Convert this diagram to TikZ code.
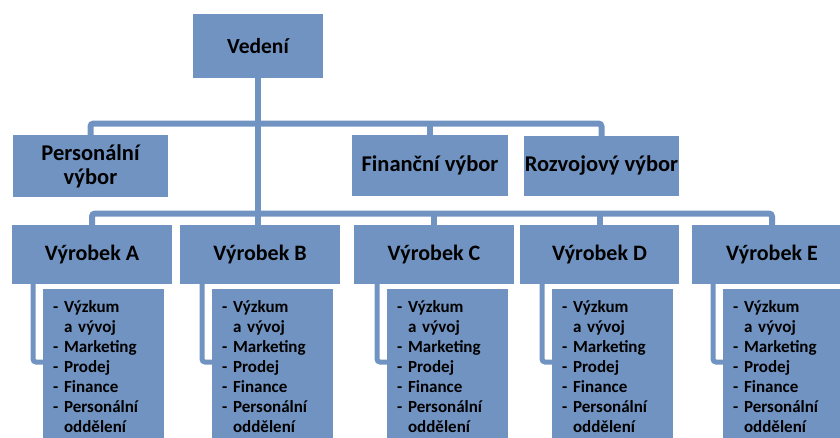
\documentclass[tikz,border=0pt]{standalone}
\usepackage{fontspec}
\setmainfont{Carlito}
\usetikzlibrary{positioning}

\definecolor{orgblue}{RGB}{113,147,194}

\newcommand{\oddeleni}{- Výzkum\\\hphantom{- }a vývoj\\- Marketing\\- Prodej\\- Finance\\- Personální\\\hphantom{- }oddělení}

\begin{document}
\begin{tikzpicture}[
  x=1pt,y=-1pt,
  box/.style={fill=orgblue,inner sep=0pt,align=center,font=\bfseries\fontsize{22.5}{24}\selectfont},
  product/.style={box,minimum width=160pt,minimum height=59pt,font=\bfseries\fontsize{22}{24}\selectfont},
  duties/.style={fill=orgblue,anchor=north west,text width=101pt,align=left,inner xsep=10pt,inner ysep=11pt,
    font=\bfseries\fontsize{17}{20}\selectfont},
  link/.style={draw=orgblue,line width=6pt},
  bracket/.style={draw=orgblue,line width=5pt,rounded corners=3pt}
]
  \useasboundingbox (0,0) rectangle (840,437);

  % top levels
  \node[box,minimum width=130pt,minimum height=64pt,font=\bfseries\fontsize{21.5}{24}\selectfont] (vedeni) at (258,46) {Vedení};
  \node[box,minimum width=155pt,minimum height=62pt] (personal) at (90.5,166) {Personální\\výbor};
  \node[box,minimum width=156pt,minimum height=61pt] (financni) at (430,165.5) {Finanční výbor};
  \node[box,minimum width=155pt,minimum height=60pt] (rozvoj) at (601.5,166) {Rozvojový výbor};

  % products
  \node[product] (prodA) at (92,254.5) {Výrobek A};
  \node[product] (prodB) at (260,254.5) {Výrobek B};
  \node[product] (prodC) at (434,254.5) {Výrobek C};
  \node[product,minimum width=159pt] (prodD) at (599.5,254.5) {Výrobek D};
  \node[product] (prodE) at (772,254.5) {Výrobek E};

  % departments of each product
  \node[duties] (dutA) at (43,289) {\oddeleni};
  \node[duties] (dutB) at (212,289) {\oddeleni};
  \node[duties] (dutC) at (387,289) {\oddeleni};
  \node[duties] (dutD) at (552,289) {\oddeleni};
  \node[duties] (dutE) at (723,289) {\oddeleni};

  % buses
  \coordinate (topbus) at (258,123.5);
  \coordinate (prodbus) at (258,213.5);
  \draw[link] (vedeni.south) -- (vedeni.south |- prodB.north);
  \draw[link,rounded corners=3pt] (personal.north) |- (topbus) -| (rozvoj.north);
  \draw[link] (financni.north) -- (financni.north |- topbus);
  \draw[link,rounded corners=3pt] (prodA.north) |- (prodbus) -| (prodE.north);
  \draw[link] (prodC.north) -- (prodC.north |- prodbus);
  \draw[link] (prodD.north) -- (prodD.north |- prodbus);

  % brackets to the department lists
  \draw[bracket] ([xshift=-10pt]dutA.north west |- prodA.south) |- ([yshift=-73pt]dutA.north west);
  \draw[bracket] ([xshift=-10pt]dutB.north west |- prodB.south) |- ([yshift=-73pt]dutB.north west);
  \draw[bracket] ([xshift=-10pt]dutC.north west |- prodC.south) |- ([yshift=-73pt]dutC.north west);
  \draw[bracket] ([xshift=-10pt]dutD.north west |- prodD.south) |- ([yshift=-73pt]dutD.north west);
  \draw[bracket] ([xshift=-10pt]dutE.north west |- prodE.south) |- ([yshift=-73pt]dutE.north west);
\end{tikzpicture}
\end{document}
